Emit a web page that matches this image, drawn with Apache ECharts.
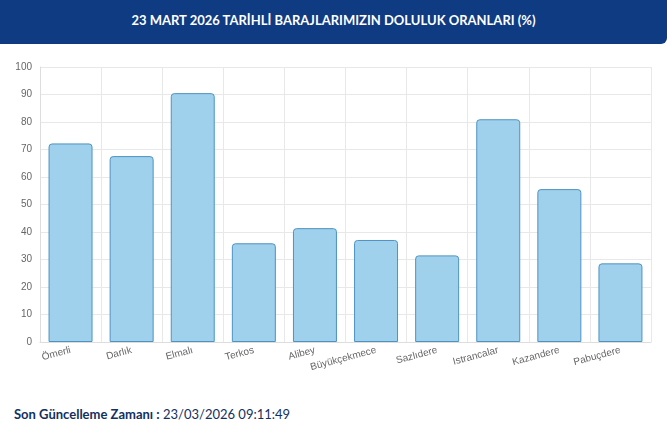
<!DOCTYPE html>
<html>
<head>
<meta charset="utf-8">
<script src="https://cdn.jsdelivr.net/npm/echarts@6/dist/echarts.min.js"></script>
<style>
  body { margin: 0; background: #fff; font-family: Lato, "Open Sans", sans-serif; }
  #header { height: 44px; background: #0f3b82; color: #fff; font-weight: bold; font-size: 13px;
            text-align: center; line-height: 40px; border-radius: 0 0 6px 0; }
  #chart { width: 667px; height: 355px; }
  #footer { position: absolute; left: 14px; top: 406px; font-size: 13px; color: #13305e; }
</style>
</head>
<body>
<div id="header">23 MART 2026 TARİHLİ BARAJLARIMIZIN DOLULUK ORANLARI (%)</div>
<div id="chart"></div>
<div id="footer"><b>Son Güncelleme Zamanı :</b> 23/03/2026 09:11:49</div>
<script>
// baraj isimleri ve doluluk oranları
var damNames = ['Ömerli', 'Darlık', 'Elmalı', 'Terkos', 'Alibey', 'Büyükçekmece', 'Sazlıdere', 'Istrancalar', 'Kazandere', 'Pabuçdere'];
var fillRates = [72.2, 67.6, 90.5, 35.9, 41.4, 37.1, 31.5, 81.0, 55.6, 28.6];

var myChart = echarts.init(document.getElementById('chart'));
myChart.setOption({
    animation: false,
    grid: { left: 40, right: 16, top: 23, bottom: 57 },
    xAxis: {
        type: 'category',
        data: damNames,
        axisLine: { lineStyle: { color: '#ddd' } },
        axisTick: { show: false },
        splitLine: { show: true, lineStyle: { color: '#e8e8e8' } },
        axisLabel: { rotate: 15, color: '#666', fontSize: 10, margin: 8, interval: 0 }
    },
    yAxis: {
        type: 'value',
        min: 0,
        max: 100,
        interval: 10,
        axisLine: { show: true, lineStyle: { color: '#ddd' } },
        axisLabel: { color: '#666', fontSize: 10 },
        splitLine: { lineStyle: { color: '#e8e8e8' } }
    },
    series: [{
        type: 'bar',
        data: fillRates,
        barCategoryGap: '28%',
        itemStyle: {
            color: '#9fd0ec',
            borderColor: '#4d93c2',
            borderWidth: 1,
            borderRadius: [3, 3, 0, 0]
        }
    }]
});
</script>
</body>
</html>
